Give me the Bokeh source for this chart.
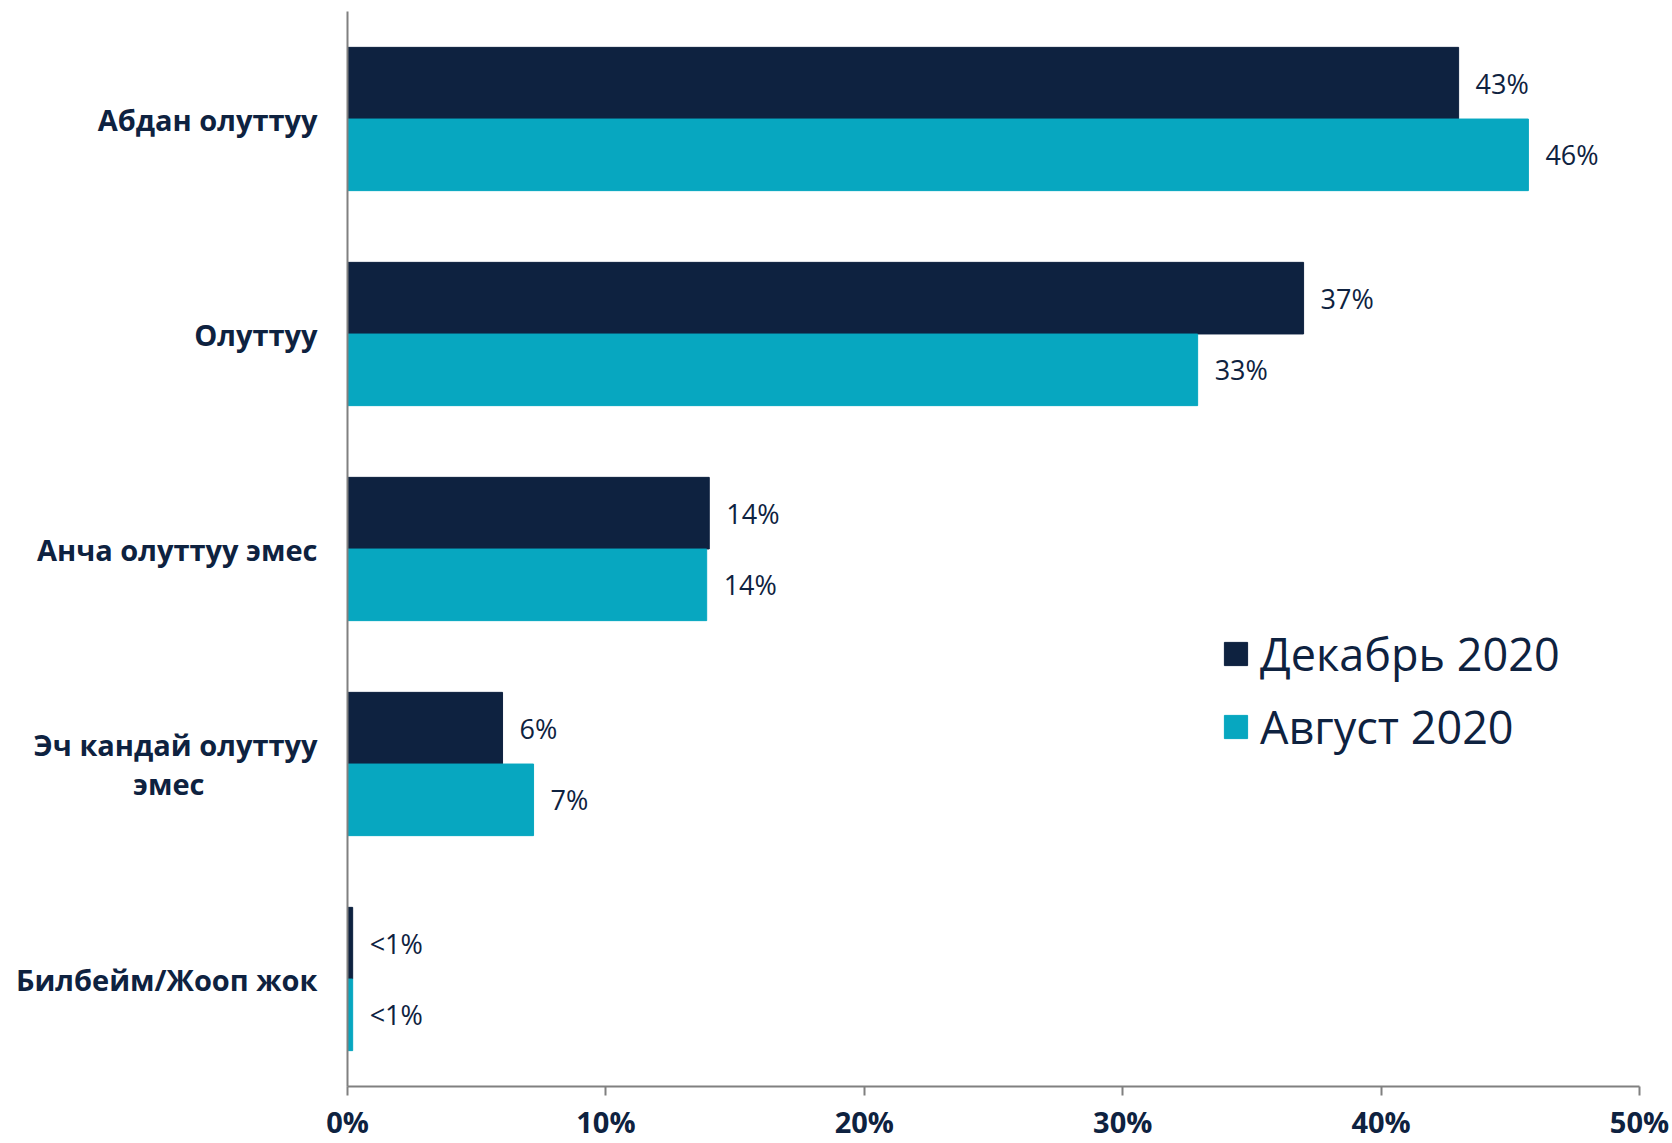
from bokeh.plotting import figure
from bokeh.models import ColumnDataSource, FactorRange, Range1d, Legend, LegendItem, FixedTicker, CustomJSTickFormatter
from bokeh.transform import dodge
from bokeh.core.properties import value
from bokeh.embed import file_html
from bokeh.resources import INLINE

NB = "\u00a0"
categories = ["Абдан олуттуу", "Олуттуу", "Анча олуттуу эмес",
              "Эч кандай олуттуу\nэмес" + NB * 15, "Билбейм/Жооп жок"]
dec_values = [43, 37, 14, 6, 0.2]
aug_values = [45.7, 32.9, 13.9, 7.2, 0.2]
dec_labels = ["43%", "37%", "14%", "6%", "<1%"]
aug_labels = ["46%", "33%", "14%", "7%", "<1%"]
series_names = ["Декабрь 2020", "Август 2020"]
ticks = [0, 10, 20, 30, 40, 50]

DARK = "#0E2240"
TEAL = "#07A7C0"
FONT = "Open Sans"

src = ColumnDataSource(dict(cat=categories, dec=dec_values, aug=aug_values,
                            dec_lab=dec_labels, aug_lab=aug_labels))

p = figure(width=1672, height=1143, output_backend="svg", toolbar_location=None,
           y_range=FactorRange(factors=categories[::-1], range_padding=0),
           x_range=Range1d(0, 50), min_border_left=347, min_border_right=33,
           min_border_top=11, min_border_bottom=52)
p.outline_line_color = None
p.grid.grid_line_color = None

r_dec = p.hbar(y=dodge("cat", 0.1667, range=p.y_range), right="dec", left=0, height=0.333,
               source=src, fill_color=DARK, line_color=DARK)
r_aug = p.hbar(y=dodge("cat", -0.1667, range=p.y_range), right="aug", left=0, height=0.333,
               source=src, fill_color=TEAL, line_color=TEAL)

p.text(x="dec", y=dodge("cat", 0.1667, range=p.y_range), text="dec_lab", source=src,
       x_offset=17, text_baseline="middle", text_align="left", text_color=DARK,
       text_font_size="27px", text_font=value(FONT))
p.text(x="aug", y=dodge("cat", -0.1667, range=p.y_range), text="aug_lab", source=src,
       x_offset=17, text_baseline="middle", text_align="left", text_color=DARK,
       text_font_size="27px", text_font=value(FONT))

xa = p.xaxis[0]
xa.ticker = FixedTicker(ticks=ticks)
xa.formatter = CustomJSTickFormatter(code="return tick + '%';")
xa.axis_line_color = "#808080"
xa.axis_line_width = 2
xa.major_tick_line_color = "#808080"
xa.major_tick_line_width = 2
xa.major_tick_out = 9
xa.major_tick_in = 0
xa.minor_tick_line_color = None
xa.major_label_text_font = FONT
xa.major_label_text_font_style = "bold"
xa.major_label_text_font_size = "29px"
xa.major_label_text_color = DARK
xa.major_label_text_line_height = 0.9
xa.major_label_standoff = 6

ya = p.yaxis[0]
ya.axis_line_color = "#808080"
ya.axis_line_width = 2
ya.major_tick_line_color = None
ya.minor_tick_line_color = None
ya.major_label_text_font = FONT
ya.major_label_text_font_style = "bold"
ya.major_label_text_font_size = "29px"
ya.major_label_text_color = DARK
ya.major_label_text_line_height = 1.0
ya.major_label_standoff = 24

legend = Legend(items=[LegendItem(label=series_names[0], renderers=[r_dec]),
                       LegendItem(label=series_names[1], renderers=[r_aug])],
                location=(874, 329), orientation="vertical",
                glyph_width=29, glyph_height=29, label_height=52, spacing=12,
                label_text_font=FONT, label_text_font_size="45px", label_text_color=DARK,
                label_standoff=10, padding=0, margin=0,
                border_line_color=None, background_fill_alpha=0)
p.add_layout(legend, "center")

open("out.html", "w").write(file_html(p, INLINE))
